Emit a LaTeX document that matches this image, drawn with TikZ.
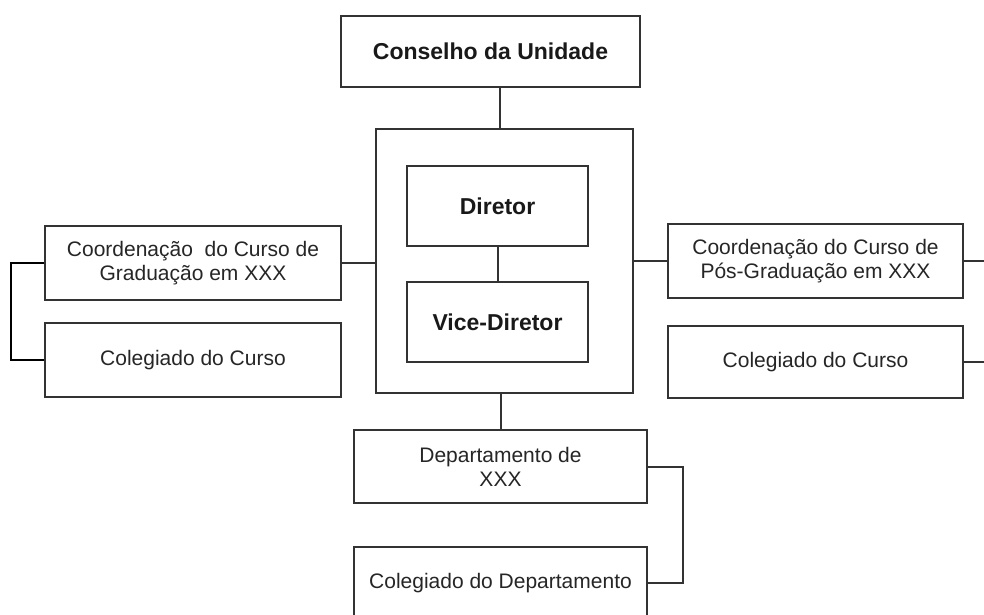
\documentclass[tikz,border=0pt]{standalone}
\usepackage{fontspec}
\setmainfont{Liberation Sans}
\begin{document}
\begin{tikzpicture}[x=1pt,y=-1pt,
  box/.style={draw=black!80, line width=2pt, fill=white, rectangle, inner sep=0pt, align=center, text=black!85,
    font=\fontsize{21}{24}\selectfont},
  boldbox/.style={box, text=black!90, font=\fontsize{23}{27}\selectfont\bfseries},
  conn/.style={draw=black!80, line width=2pt}]
\useasboundingbox (0,0) rectangle (984,614);
\clip (0,0) rectangle (984,614);
\fill[white] (0,0) rectangle (984,614);
% central container
\node[box, minimum width=257pt, minimum height=264pt] (outer) at (504.5,261) {};
\node[boldbox, minimum width=299pt, minimum height=71pt] (cons) at (490.5,51.5) {Conselho da Unidade};
\node[boldbox, minimum width=181pt, minimum height=80pt] (dir) at (497.5,206) {Diretor};
\node[boldbox, minimum width=181pt, minimum height=80pt] (vice) at (497.5,322) {Vice-Diretor};
% left
\node[box, minimum width=296pt, minimum height=74pt] (lcoord) at (193,263) {Coordenação\ \ do Curso de\\Graduação em XXX};
\node[box, minimum width=296pt, minimum height=74pt] (lcol) at (193,360) {Colegiado do Curso};
% right
\node[box, minimum width=295pt, minimum height=74pt] (rcoord) at (815.5,261) {Coordenação do Curso de\\Pós-Graduação em XXX};
\node[box, minimum width=295pt, minimum height=72pt] (rcol) at (815.5,362) {Colegiado do Curso};
% bottom
\node[box, minimum width=293pt, minimum height=73pt] (dept) at (500.5,466.5) {Departamento de\\XXX};
\node[box, minimum width=293pt, minimum height=72pt] (cdept) at (500.5,583) {Colegiado do Departamento};
% connectors
\draw[conn] ([xshift=-4.5pt]outer.north) -- ([xshift=-4.5pt]outer.north |- cons.south);
\draw[conn] (dir.south) -- (vice.north);
\draw[conn] (lcoord.east) -- (outer.west |- lcoord.east);
\draw[conn] (rcoord.west) -- (outer.east |- rcoord.west);
\draw[conn] (dept.north) -- (dept.north |- outer.south);
\draw[conn, draw=black] (lcoord.west) -- ++(-33,0) |- (lcol.west);
\draw[conn] (rcoord.east) -- ++(40,0) |- (rcol.east);
\draw[conn] (dept.east) -- ++(35,0) |- (cdept.east);
\end{tikzpicture}
\end{document}
